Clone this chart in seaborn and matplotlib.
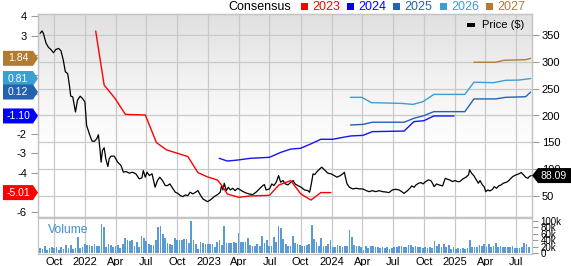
import numpy as np
import pandas as pd
import matplotlib
matplotlib.use("Agg")
import matplotlib.pyplot as plt
import matplotlib.dates as mdates
from matplotlib.patches import Polygon, Rectangle
from matplotlib.colors import LinearSegmentedColormap
from matplotlib.ticker import FuncFormatter, FixedLocator
import seaborn as sns

# ---------------- data ----------------
price_dates = [
    "2021-08-20", "2021-08-26", "2021-08-30", "2021-09-07", "2021-09-14", "2021-09-21", "2021-09-29",
    "2021-10-06", "2021-10-14", "2021-10-21", "2021-10-28", "2021-11-03", "2021-11-10", "2021-11-15",
    "2021-11-19", "2021-11-25", "2021-12-03", "2021-12-09", "2021-12-17", "2021-12-24", "2021-12-31",
    "2022-01-05", "2022-01-13", "2022-01-21", "2022-01-28", "2022-02-04", "2022-02-09", "2022-02-14",
    "2022-02-17", "2022-02-21", "2022-02-26", "2022-03-03", "2022-03-09", "2022-03-13", "2022-03-18",
    "2022-03-28", "2022-04-07", "2022-04-17", "2022-04-24", "2022-05-02", "2022-05-12", "2022-05-21",
    "2022-05-31", "2022-06-10", "2022-06-18", "2022-06-22", "2022-06-28", "2022-07-03", "2022-07-10",
    "2022-07-18", "2022-07-27", "2022-08-03", "2022-08-10", "2022-08-18", "2022-08-26", "2022-09-02",
    "2022-09-09", "2022-09-17", "2022-09-25", "2022-10-02", "2022-10-10", "2022-10-17", "2022-10-25",
    "2022-11-01", "2022-11-08", "2022-11-16", "2022-11-24", "2022-12-01", "2022-12-08", "2022-12-16",
    "2022-12-29", "2023-01-08", "2023-01-18", "2023-01-28", "2023-02-05", "2023-02-09", "2023-02-13",
    "2023-02-17", "2023-02-23", "2023-03-01", "2023-03-07", "2023-03-14", "2023-03-21", "2023-03-29",
    "2023-04-06", "2023-04-12", "2023-04-22", "2023-05-02", "2023-05-12", "2023-05-22", "2023-06-01",
    "2023-06-11", "2023-06-16", "2023-06-21", "2023-07-01", "2023-07-08", "2023-07-14", "2023-07-21",
    "2023-07-28", "2023-08-03", "2023-08-10", "2023-08-17", "2023-08-25", "2023-09-02", "2023-09-09",
    "2023-09-15", "2023-09-23", "2023-10-03", "2023-10-13", "2023-10-23", "2023-10-28", "2023-11-02",
    "2023-11-07", "2023-11-12", "2023-11-20", "2023-11-27", "2023-12-03", "2023-12-11", "2023-12-21",
    "2023-12-31", "2024-01-09", "2024-01-17", "2024-01-27", "2024-02-03", "2024-02-08", "2024-02-11",
    "2024-02-16", "2024-02-23", "2024-03-04", "2024-03-14", "2024-03-24", "2024-04-03", "2024-04-13",
    "2024-04-21", "2024-05-01", "2024-05-11", "2024-05-21", "2024-05-31", "2024-06-10", "2024-06-19",
    "2024-06-29", "2024-07-09", "2024-07-19", "2024-07-27", "2024-08-03", "2024-08-13", "2024-08-20",
    "2024-08-26", "2024-09-02", "2024-09-07", "2024-09-15", "2024-09-22", "2024-09-28", "2024-10-06",
    "2024-10-14", "2024-10-21", "2024-10-26", "2024-10-31", "2024-11-07", "2024-11-15", "2024-11-25",
    "2024-12-03", "2024-12-09", "2024-12-16", "2024-12-24", "2025-01-01", "2025-01-08", "2025-01-15",
    "2025-01-23", "2025-02-02", "2025-02-10", "2025-02-13", "2025-02-19", "2025-02-26", "2025-03-05",
    "2025-03-11", "2025-03-16", "2025-03-23", "2025-03-28", "2025-04-02", "2025-04-08", "2025-04-14",
    "2025-04-22", "2025-04-27", "2025-05-04", "2025-05-10", "2025-05-17", "2025-05-24", "2025-05-30",
    "2025-06-06", "2025-06-13", "2025-06-21", "2025-07-01", "2025-07-09", "2025-07-16", "2025-07-23",
    "2025-07-29", "2025-08-05", "2025-08-09", "2025-08-15",
]
price_values = [
    353, 357.5, 353, 334.5, 327, 323, 317,
    323, 325, 320.7, 303, 281.5, 278, 256.5,
    236, 234.7, 206.6, 228.4, 236, 231.6, 225.3,
    181.7, 166, 152.4, 151.8, 156.7, 164.2, 134.9,
    113.1, 134.9, 139.9, 119.3, 105, 119.3, 124.3,
    124.3, 113.1, 106.9, 94.4, 95.6, 92.5, 94.4,
    91.3, 82, 83.8, 97.5, 85, 94.4, 88.2,
    91.3, 66.4, 78.8, 85, 78.8, 69.5, 69.5,
    72.6, 64.5, 57, 55.1, 50.7, 48.9, 52,
    50.7, 57, 53.9, 57, 60.1, 52, 44.5,
    39.5, 43.2, 48.8, 52.6, 57, 69.4, 61.3,
    73.8, 60, 66.3, 61.3, 64.4, 60, 64.4,
    61.3, 58.8, 55.7, 53.8, 52.6, 57, 63.2,
    69.4, 71.3, 61.3, 63.2, 72.5, 69.4, 75.7,
    88.1, 75.7, 78.8, 72.5, 70.7, 75.7, 78.8,
    72.5, 69.4, 66.3, 61.3, 60, 57, 72.5,
    91.2, 90, 96.2, 100.6, 103.7, 98.7, 92.5,
    91.2, 88.1, 85, 88.1, 91.2, 94.4, 85,
    72.5, 66.3, 63.2, 64.4, 63.2, 63.2, 60,
    58.1, 60, 58.1, 60, 58.1, 57.5, 56.3,
    61.3, 62.5, 61.3, 58.1, 55, 60, 64.4,
    68.8, 66.3, 70.6, 73.8, 75, 72.5, 76.9,
    80, 78.8, 73.8, 67.5, 72.5, 70.6, 68.8,
    83.1, 81.3, 80, 76.9, 78.8, 76.9, 76.9,
    81.3, 85, 89.4, 98.8, 92.5, 87.5, 80,
    73.8, 78.8, 70.6, 67.5, 58.1, 61.3, 59.4,
    62.5, 67.5, 64.4, 68.8, 70.6, 73.8, 75,
    76.9, 81.3, 86.3, 89.4, 91.3, 93.8, 89.4,
    85, 83.1, 86.3, 88.09,
]

eps2023_dates = ["2022-02-01", "2022-02-26", "2022-03-30", "2022-04-30", "2022-06-28", "2022-07-31",
                 "2022-08-30", "2022-11-01", "2022-12-01", "2022-12-28", "2023-01-28", "2023-02-12",
                 "2023-02-26", "2023-04-01", "2023-05-06", "2023-07-01", "2023-07-29", "2023-09-02",
                 "2023-10-02", "2023-11-01", "2023-11-30", "2023-12-30"]
eps2023_values = [3.23, 0.48, -0.2, -1.02, -1.05, -2.46, -2.83, -3.17, -3.99, -4.2, -4.37, -4.7,
                  -5.08, -5.25, -5.18, -5.15, -4.62, -4.4, -5.08, -5.39, -5.01, -5.01]

eps2024_dates = ["2023-02-02", "2023-02-26", "2023-03-28", "2023-05-06", "2023-07-01", "2023-08-03",
                 "2023-09-02", "2023-10-01", "2023-10-31", "2023-11-30", "2024-01-04", "2024-02-01",
                 "2024-02-27", "2024-04-03", "2024-05-01", "2024-08-03", "2024-09-01", "2024-10-01",
                 "2024-10-30", "2024-12-29"]
eps2024_values = [-3.26, -3.4, -3.35, -3.26, -3.21, -2.96, -2.79, -2.75, -2.53, -2.29, -2.29, -2.2,
                  -2.12, -2.09, -1.9, -1.87, -1.39, -1.34, -1.10, -1.10]

eps2025_dates = ["2024-02-26", "2024-04-03", "2024-05-01", "2024-08-03", "2024-09-01", "2024-10-01",
                 "2024-10-30", "2025-01-30", "2025-02-26", "2025-05-01", "2025-05-31", "2025-07-29",
                 "2025-08-13"]
eps2025_values = [-1.56, -1.53, -1.42, -1.42, -1.22, -1.08, -0.88, -0.88, -0.23, -0.23, -0.15, -0.12, 0.12]

eps2026_dates = ["2024-02-26", "2024-03-31", "2024-04-28", "2024-07-28", "2024-08-29", "2024-09-28",
                 "2024-10-30", "2025-01-30", "2025-02-26", "2025-04-26", "2025-05-31", "2025-07-09",
                 "2025-08-13"]
eps2026_values = [-0.15, -0.15, -0.42, -0.46, -0.51, -0.37, 0.0, 0.0, 0.62, 0.6, 0.72, 0.73, 0.81]

eps2027_dates = ["2025-02-26", "2025-05-01", "2025-05-26", "2025-07-29", "2025-08-13"]
eps2027_values = [1.64, 1.64, 1.74, 1.77, 1.84]

volume_start = "2021-08-20"   # weekly bars
volume_k = [
    16, 13, 21, 10, 15, 18, 16, 18, 10, 18, 14, 26, 17, 26, 14, 17, 51, 15, 18, 28,
    26, 25, 23, 28, 21, 21, 90, 82, 20, 28, 26, 20, 22, 25, 15, 30, 48, 42, 38, 40,
    22, 35, 18, 52, 46, 38, 28, 26, 26, 42, 80, 83, 58, 46, 33, 28, 25, 46, 40, 40,
    40, 43, 45, 33, 98, 42, 30, 13, 36, 33, 28,
    30, 28, 28, 18, 36, 40, 25, 85, 33, 33, 33, 36, 33, 63, 35, 35, 36, 46, 25, 23,
    23, 28, 23, 53, 33, 40, 22, 23, 50, 36, 85, 78, 43, 30, 23, 21, 53, 31, 28, 26,
    21, 21, 26, 28, 88, 43, 36, 21, 46, 23, 21, 28, 40, 18, 18, 26, 21, 20, 23, 21,
    73, 50, 26, 23, 21, 18, 10, 21, 16, 21,
    22, 18, 20, 15, 20, 15, 18, 14, 15, 20, 20, 22, 22, 18, 20, 24, 25, 18, 22, 20,
    20, 15, 18, 16, 18, 15, 38, 22, 28, 20, 30, 18, 25, 12, 20, 14, 15, 12, 15, 14,
    16, 40, 20, 18, 20, 24, 22, 28, 18, 30, 18, 22, 33, 18, 22, 20, 18, 20, 18, 22,
    16, 15, 16, 20, 33, 28, 20,
]

eps_ticks = [4, 3, 2, 1, 0, -1, -2, -3, -4, -5, -6]
eps_tick_labels = ["4", "3", "", "", "", "", "-2", "-3", "-4", "", "-6"]  # others hidden by tags
price_ticks = [50, 100, 150, 200, 250, 300, 350]
volume_ticks = [0, 20, 40, 60, 80, 100]
volume_tick_labels = ["0", "20k", "40k", "60k", "80k", "100k"]
legend_years = ["2023", "2024", "2025", "2026", "2027"]
last_price_label = "88.09"
eps_labels = ["1.84", "0.81", "0.12", "-1.10", "-5.01"]

# ---------------- style ----------------
C23, C24, C25, C26, C27 = "#ff0000", "#1414f5", "#2462b0", "#3a9fd2", "#b27b30"
TAG_COLORS = ["#b27b30", "#3a9fd2", "#2462b0", "#0000ff", "#ff0000"]
GRID = "#c9c9c9"

sns.set_theme(style="white")
plt.rcParams["font.family"] = ["Liberation Sans", "DejaVu Sans"]

W, H = 571, 266
fig = plt.figure(figsize=(W / 100, H / 100), dpi=100)
fig.patch.set_facecolor("white")

def fx(px):
    return px / W

def fy(py):
    return 1 - py / H

L, R, T, B, VT, VB = 38, 532, 14, 217, 218, 254
ax_price = fig.add_axes([fx(L), fy(B), fx(R - L), (B - T) / H])
ax_eps = ax_price.twinx()
ax_vol = fig.add_axes([fx(L), fy(VB), fx(R - L), (VB - VT) / H])

def to_num(lst):
    return mdates.date2num(pd.to_datetime(lst).to_pydatetime())

# gradient background
cmap = LinearSegmentedColormap.from_list("bg", ["#ffffff", "#ffffff", "#f2f2f2", "#e0e0e0"])
grad = np.linspace(0, 1, 256)[:, None]
ax_price.imshow(grad, cmap=cmap, extent=(0, 1, 0, 1), transform=ax_price.transAxes,
                aspect="auto", origin="lower", zorder=0)

# price
sns.lineplot(x=to_num(price_dates), y=price_values, ax=ax_price, color="black", lw=0.9,
             estimator=None, sort=False, legend=False, zorder=3)

# EPS consensus lines
for d, v, c in [(eps2023_dates, eps2023_values, C23), (eps2024_dates, eps2024_values, C24),
                (eps2025_dates, eps2025_values, C25), (eps2026_dates, eps2026_values, C26),
                (eps2027_dates, eps2027_values, C27)]:
    sns.lineplot(x=to_num(d), y=v, ax=ax_eps, color=c, lw=1.0, estimator=None, sort=False,
                 legend=False, zorder=3)

# volume
vol_dates = pd.date_range(volume_start, periods=len(volume_k), freq="7D")
sns.barplot(x=mdates.date2num(vol_dates.to_pydatetime()), y=volume_k, ax=ax_vol, native_scale=True,
            color="#5b9bd5", saturation=1, width=0.72, errorbar=None, linewidth=0, zorder=3)

xmin, xmax = mdates.date2num(pd.Timestamp("2021-08-14")), mdates.date2num(pd.Timestamp("2025-08-17"))
for a in (ax_price, ax_eps, ax_vol):
    a.set_xlim(xmin, xmax)
    a.set_xlabel("")
    a.set_ylabel("")

ax_price.set_ylim(10.9, 389.1)
ax_eps.set_ylim(-6.255, 4.102)
ax_vol.set_ylim(-2.1, 108.3)

loc = mdates.MonthLocator(bymonth=[1, 4, 7, 10])

def date_fmt(x, pos):
    d = mdates.num2date(x)
    return str(d.year) if d.month == 1 else d.strftime("%b")

for a in (ax_price, ax_vol):
    a.xaxis.set_major_locator(loc)
    a.xaxis.set_major_formatter(FuncFormatter(date_fmt))
ax_price.tick_params(axis="x", length=0, labelbottom=False)
ax_eps.tick_params(axis="x", length=0, labelbottom=False)
ax_vol.tick_params(axis="x", length=0, labelsize=8, pad=2, labelcolor="black")

# grids
ax_price.set_axisbelow(True)
ax_price.grid(True, color=GRID, lw=0.9)
ax_eps.grid(False)
ax_vol.set_axisbelow(True)
ax_vol.grid(True, axis="x", color=GRID, lw=0.9)
ax_vol.grid(False, axis="y")
ax_vol.set_facecolor("white")

# y axes
ax_price.yaxis.tick_right()
ax_price.yaxis.set_major_locator(FixedLocator(price_ticks))
ax_price.tick_params(axis="y", which="both", right=True, left=False, length=5, width=0.8,
                     color="#9a9a9a", labelsize=8, pad=2, labelcolor="black",
                     labelright=True, labelleft=False)

ax_eps.yaxis.tick_left()
ax_eps.set_yticks(eps_ticks)
ax_eps.set_yticklabels(eps_tick_labels)
ax_eps.tick_params(axis="y", left=True, right=False, length=5, width=0.8, color="#9a9a9a",
                   labelsize=8, pad=3, labelcolor="black", labelleft=True, labelright=False)

ax_vol.yaxis.tick_right()
ax_vol.set_yticks(volume_ticks)
ax_vol.set_yticklabels(volume_tick_labels)
ax_vol.tick_params(axis="y", right=True, left=False, length=4, width=0.8, color="#9a9a9a",
                   labelsize=7, pad=2, labelcolor="black", labelright=True, labelleft=False)

for a in (ax_price, ax_eps, ax_vol):
    for s in a.spines.values():
        s.set_color("#c4c4c4")
        s.set_linewidth(0.9)

ax_vol.text(0.02, 0.68, "Volume", transform=ax_vol.transAxes, color="#3d8dd0", fontsize=8.7,
            va="center", ha="left")

# value tags
inv = fig.transFigure.inverted()

def y_of(ax, v):
    return inv.transform(ax.transData.transform((xmin, v)))[1]

tag_values = [float(s) for s in eps_labels]
for val, lab, col in zip(tag_values, eps_labels, TAG_COLORS):
    yc = y_of(ax_eps, val)
    hh = 7.5 / H
    poly = Polygon([(fx(3), yc - hh), (fx(33), yc - hh), (fx(38), yc), (fx(33), yc + hh),
                    (fx(3), yc + hh)], closed=True, transform=fig.transFigure,
                   facecolor=col, edgecolor="none", zorder=10)
    fig.add_artist(poly)
    fig.text(fx(18), yc, lab, color="white", fontsize=7.5, ha="center", va="center", zorder=11)

yc = y_of(ax_price, float(last_price_label))
hh = 7.5 / H
fig.add_artist(Polygon([(fx(532), yc), (fx(538), yc - hh), (fx(571), yc - hh), (fx(571), yc + hh),
                        (fx(538), yc + hh)], closed=True, transform=fig.transFigure,
                       facecolor="black", edgecolor="none", zorder=10))
fig.text(fx(554), yc, last_price_label, color="white", fontsize=7.5, ha="center", va="center",
         zorder=11)

# top legend
ly = fy(6.5)
fig.text(fx(228), ly, "Consensus", fontsize=9, color="black", ha="left", va="center")
sq_x = [301, 347, 393, 440, 486]
for xs, yr, col in zip(sq_x, legend_years, [C23, "#0000ff", C25, C26, C27]):
    fig.add_artist(Rectangle((fx(xs), fy(9.5)), fx(7), 7 / H, transform=fig.transFigure,
                             facecolor=col, edgecolor="none"))
    fig.text(fx(xs + 11), ly, yr, fontsize=9, color=col, ha="left", va="center")

# price legend
fig.add_artist(Rectangle((fx(467), fy(27)), fx(8), 4 / H, transform=fig.transFigure,
                         facecolor="black", edgecolor="none", zorder=5))
fig.text(fx(482), fy(25), "Price ($)", fontsize=8, color="black", ha="left", va="center", zorder=5)

fig.savefig("out.png", dpi=100, facecolor="white")
